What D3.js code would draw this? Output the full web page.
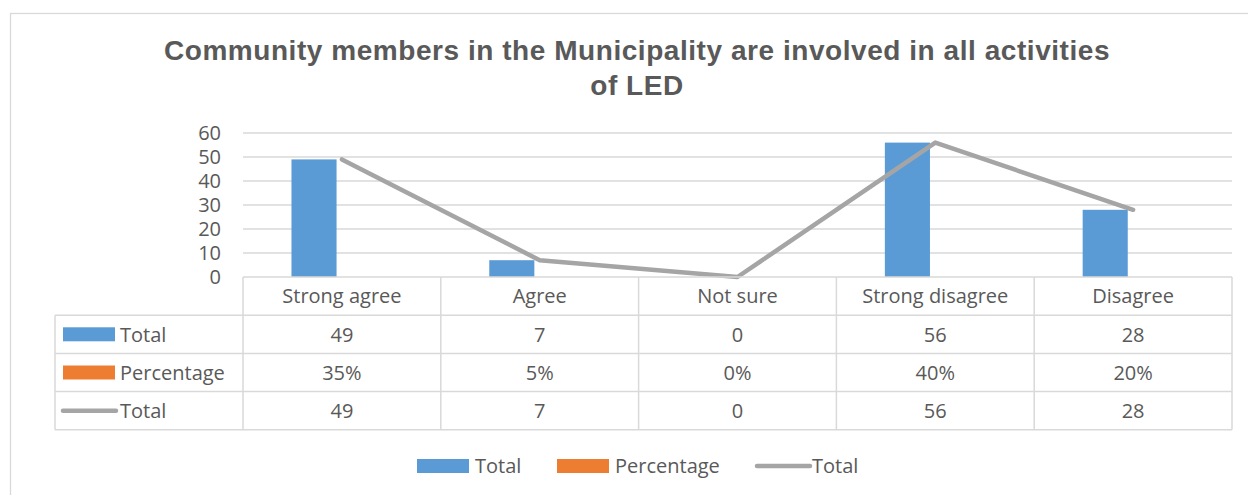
<!DOCTYPE html>
<html>
<head>
<meta charset="utf-8">
<script src="https://cdn.jsdelivr.net/npm/d3@7"></script>
<style>
  body { margin: 0; background: #fff; }
  svg text { fill: #595959; }
</style>
</head>
<body>
<script>
// Data
const categories = ["Strong agree", "Agree", "Not sure", "Strong disagree", "Disagree"];
const totals = [49, 7, 0, 56, 28];
const percentages = [0.35, 0.05, 0, 0.40, 0.20];
const yTicks = [0, 10, 20, 30, 40, 50, 60];
const titleLines = ["Community members in the Municipality are involved in all activities", "of LED"];

const width = 1248, height = 495;
const plot = { left: 243, right: 1232, top: 133, bottom: 277 };
const rowH = 38.2;
const tableLeft = 55;
const labelFont = "'Open Sans', sans-serif";
const labelSize = "20px";

const svg = d3.select("body").append("svg")
    .attr("width", width)
    .attr("height", height);

// Outer chart border (only left/top visible)
svg.append("rect")
    .attr("x", 10.5).attr("y", 13.5)
    .attr("width", 1300).attr("height", 600)
    .attr("fill", "none")
    .attr("stroke", "#d9d9d9")
    .attr("stroke-width", 1.3);

// Title
svg.append("g").selectAll("text")
    .data(titleLines)
    .enter().append("text")
    .attr("x", 637)
    .attr("y", (d, i) => 60 + i * 35)
    .attr("text-anchor", "middle")
    .style("font-family", "'Liberation Sans', Arial, sans-serif")
    .style("font-weight", "bold")
    .style("font-size", "28px")
    .style("letter-spacing", "0.55px")
    .text(d => d);

// Scales
const x = d3.scaleBand()
    .domain(categories)
    .range([plot.left, plot.right]);

const y = d3.scaleLinear()
    .domain([0, 60])
    .range([plot.bottom, plot.top]);

const bw = x.bandwidth();
// two bar slots per category: Total then Percentage (percentage bars are too small to see)
const barX = d3.scaleBand()
    .domain(["total", "pct"])
    .range([bw * 0.245, bw * 0.245 + bw * 0.456]);

// Gridlines
svg.append("g").selectAll("line")
    .data(yTicks.slice(1))
    .enter().append("line")
    .attr("x1", plot.left).attr("x2", plot.right)
    .attr("y1", d => y(d)).attr("y2", d => y(d))
    .attr("stroke", "#d9d9d9")
    .attr("stroke-width", 1.3);

// Y tick labels
svg.append("g").selectAll("text")
    .data(yTicks)
    .enter().append("text")
    .attr("x", 221)
    .attr("y", d => y(d))
    .attr("dy", "0.36em")
    .attr("text-anchor", "end")
    .style("font-family", labelFont)
    .style("font-size", labelSize)
    .text(d => d);

// Bars
svg.append("g").selectAll("rect")
    .data(categories.map((c, i) => ({ c, v: totals[i] })))
    .enter().append("rect")
    .attr("x", d => x(d.c) + barX("total"))
    .attr("width", barX.bandwidth())
    .attr("y", d => y(d.v))
    .attr("height", d => y(0) - y(d.v))
    .attr("fill", "#5b9bd5");

// Line
const line = d3.line()
    .x((d, i) => x(categories[i]) + bw / 2)
    .y(d => y(d));

svg.append("path")
    .datum(totals)
    .attr("d", line)
    .attr("fill", "none")
    .attr("stroke", "#a5a5a5")
    .attr("stroke-width", 4.5)
    .attr("stroke-linejoin", "round")
    .attr("stroke-linecap", "round");

// Data table
const table = svg.append("g");
const gridColor = "#d9d9d9";
const rows = [
    { name: "Total", values: totals.map(String), key: "bar", color: "#5b9bd5" },
    { name: "Percentage", values: percentages.map(d => d3.format(".0%")(d)), key: "bar", color: "#ed7d31" },
    { name: "Total", values: totals.map(String), key: "line", color: "#a5a5a5" }
];
const headTop = plot.bottom;
const rowsTop = headTop + rowH;
const tableBottom = rowsTop + rows.length * rowH;

// horizontal lines
table.append("line")
    .attr("x1", plot.left).attr("x2", plot.right)
    .attr("y1", headTop).attr("y2", headTop)
    .attr("stroke", gridColor).attr("stroke-width", 1.5);
d3.range(rows.length + 1).forEach(i => {
    table.append("line")
        .attr("x1", tableLeft).attr("x2", plot.right)
        .attr("y1", rowsTop + i * rowH).attr("y2", rowsTop + i * rowH)
        .attr("stroke", gridColor).attr("stroke-width", 1.5);
});
// vertical lines
table.append("line")
    .attr("x1", tableLeft).attr("x2", tableLeft)
    .attr("y1", rowsTop).attr("y2", tableBottom)
    .attr("stroke", gridColor).attr("stroke-width", 1.5);
categories.forEach(c => {
    table.append("line")
        .attr("x1", x(c)).attr("x2", x(c))
        .attr("y1", headTop).attr("y2", tableBottom)
        .attr("stroke", gridColor).attr("stroke-width", 1.5);
});
table.append("line")
    .attr("x1", plot.right).attr("x2", plot.right)
    .attr("y1", headTop).attr("y2", tableBottom)
    .attr("stroke", gridColor).attr("stroke-width", 1.5);

// category header
table.selectAll(".cat")
    .data(categories)
    .enter().append("text")
    .attr("class", "cat")
    .attr("x", d => x(d) + bw / 2)
    .attr("y", headTop + rowH / 2)
    .attr("dy", "0.36em")
    .attr("text-anchor", "middle")
    .style("font-family", labelFont)
    .style("font-size", labelSize)
    .text(d => d);

rows.forEach((r, ri) => {
    const cy = rowsTop + ri * rowH + rowH / 2;
    if (r.key === "bar") {
        table.append("rect")
            .attr("x", 63).attr("y", cy - 7)
            .attr("width", 52).attr("height", 14)
            .attr("fill", r.color);
    } else {
        table.append("line")
            .attr("x1", 63).attr("x2", 116)
            .attr("y1", cy).attr("y2", cy)
            .attr("stroke", r.color)
            .attr("stroke-width", 4.5)
            .attr("stroke-linecap", "round");
    }
    table.append("text")
        .attr("x", 120).attr("y", cy)
        .attr("dy", "0.36em")
        .style("font-family", labelFont)
        .style("font-size", labelSize)
        .text(r.name);
    table.selectAll(null)
        .data(r.values)
        .enter().append("text")
        .attr("x", (d, i) => x(categories[i]) + bw / 2)
        .attr("y", cy)
        .attr("dy", "0.36em")
        .attr("text-anchor", "middle")
        .style("font-family", labelFont)
        .style("font-size", labelSize)
        .text(d => d);
});

// Legend
const legendItems = [
    { name: "Total", key: "bar", color: "#5b9bd5", x: 417 },
    { name: "Percentage", key: "bar", color: "#ed7d31", x: 557 },
    { name: "Total", key: "line", color: "#a5a5a5", x: 755 }
];
const ly = 466;
const legend = svg.append("g");
legendItems.forEach(it => {
    if (it.key === "bar") {
        legend.append("rect")
            .attr("x", it.x).attr("y", ly - 7)
            .attr("width", 52).attr("height", 14)
            .attr("fill", it.color);
    } else {
        legend.append("line")
            .attr("x1", it.x + 2).attr("x2", it.x + 55)
            .attr("y1", ly).attr("y2", ly)
            .attr("stroke", it.color)
            .attr("stroke-width", 4.5)
            .attr("stroke-linecap", "round");
    }
    legend.append("text")
        .attr("x", it.key === "bar" ? it.x + 58 : it.x + 57)
        .attr("y", ly)
        .attr("dy", "0.36em")
        .style("font-family", labelFont)
        .style("font-size", labelSize)
        .text(it.name);
});
</script>
</body>
</html>
